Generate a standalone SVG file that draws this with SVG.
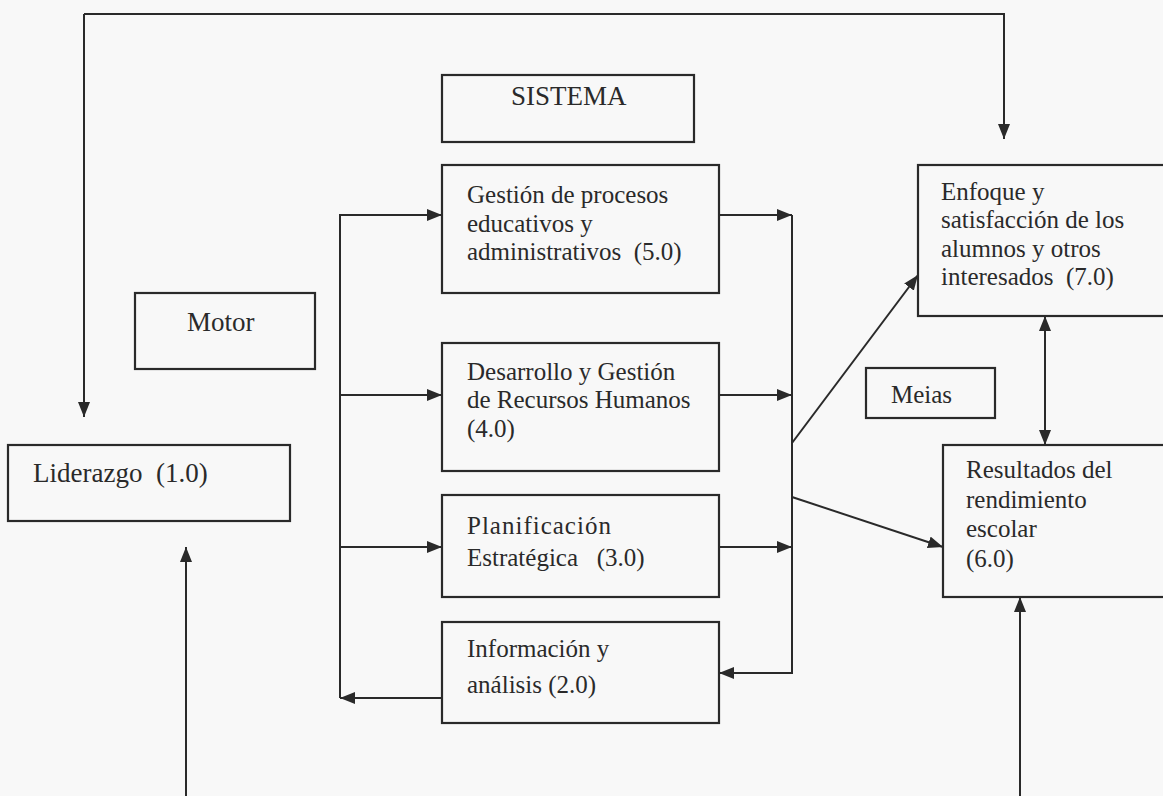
<svg xmlns="http://www.w3.org/2000/svg" width="1163" height="796" viewBox="0 0 1163 796">
<style>
.box{fill:none;stroke:#2a2a2a;stroke-width:2.2}
.t{font-family:"Liberation Serif","Times New Roman",serif;font-size:25px;fill:#2a2a2a}
.big{font-size:27px}
.ln{fill:none;stroke:#2a2a2a;stroke-width:2}
</style>
<defs>
<marker id="ah" markerUnits="userSpaceOnUse" markerWidth="16" markerHeight="12" refX="15" refY="6" orient="auto">
<path d="M0,0 L15,6 L0,12 z" fill="#2a2a2a"/>
</marker>
<marker id="ahs" markerUnits="userSpaceOnUse" markerWidth="16" markerHeight="12" refX="0" refY="6" orient="auto">
<path d="M15,0 L0,6 L15,12 z" fill="#2a2a2a"/>
</marker>
</defs>
<rect width="1163" height="796" fill="#f8f8f8"/>
<g id="connectors">
<polyline class="ln" points="84,14 1004,14 1004,139" marker-end="url(#ah)"/>
<line class="ln" x1="84" y1="14" x2="84" y2="417" marker-end="url(#ah)"/>
<line class="ln" x1="186" y1="796" x2="186" y2="547" marker-end="url(#ah)"/>
<polyline class="ln" points="442,698 340,698" marker-end="url(#ah)"/>
<polyline class="ln" points="340,698 340,215 442,215" marker-end="url(#ah)"/>
<line class="ln" x1="340" y1="395" x2="442" y2="395" marker-end="url(#ah)"/>
<line class="ln" x1="340" y1="547" x2="442" y2="547" marker-end="url(#ah)"/>
<polyline class="ln" points="719,215 792,215" marker-end="url(#ah)"/>
<line class="ln" x1="719" y1="395" x2="792" y2="395" marker-end="url(#ah)"/>
<line class="ln" x1="719" y1="547" x2="792" y2="547" marker-end="url(#ah)"/>
<polyline class="ln" points="792,215 792,673 719,673" marker-end="url(#ah)"/>
<line class="ln" x1="792" y1="443" x2="918" y2="275" marker-end="url(#ah)"/>
<line class="ln" x1="792" y1="497" x2="943" y2="547" marker-end="url(#ah)"/>
<line class="ln" x1="1045" y1="316" x2="1045" y2="445" marker-start="url(#ahs)" marker-end="url(#ah)"/>
<line class="ln" x1="1020" y1="796" x2="1020" y2="597" marker-end="url(#ah)"/>
</g>
<g id="sistema">
<rect class="box" x="442" y="75" width="252" height="67"/>
<text class="t big" x="511" y="105">SISTEMA</text>
</g>
<g id="gestion">
<rect class="box" x="442" y="165" width="277" height="128"/>
<text class="t" x="467" y="203">Gestión de procesos</text>
<text class="t" x="467" y="232">educativos y</text>
<text class="t" x="467" y="260" xml:space="preserve">administrativos  (5.0)</text>
</g>
<g id="motor">
<rect class="box" x="135" y="293" width="180" height="76"/>
<text class="t big" x="187" y="331">Motor</text>
</g>
<g id="desarrollo">
<rect class="box" x="442" y="343" width="277" height="128"/>
<text class="t" x="467" y="380">Desarrollo y Gestión</text>
<text class="t" x="467" y="408">de Recursos Humanos</text>
<text class="t" x="467" y="437">(4.0)</text>
</g>
<g id="liderazgo">
<rect class="box" x="8" y="445" width="282" height="76"/>
<text class="t big" x="33" y="482" xml:space="preserve">Liderazgo  (1.0)</text>
</g>
<g id="planificacion">
<rect class="box" x="442" y="495" width="277" height="102"/>
<text class="t" x="467" y="534" letter-spacing="1">Planificación</text>
<text class="t" x="467" y="566" xml:space="preserve">Estratégica   (3.0)</text>
</g>
<g id="informacion">
<rect class="box" x="442" y="622" width="277" height="101"/>
<text class="t" x="467" y="657">Información y</text>
<text class="t" x="467" y="693">análisis (2.0)</text>
</g>
<g id="enfoque">
<rect class="box" x="918" y="165" width="260" height="151"/>
<text class="t" x="941" y="200">Enfoque y</text>
<text class="t" x="941" y="228">satisfacción de los</text>
<text class="t" x="941" y="257">alumnos y otros</text>
<text class="t" x="941" y="285" xml:space="preserve">interesados  (7.0)</text>
</g>
<g id="metas">
<rect class="box" x="866" y="368" width="129" height="50"/>
<text class="t" x="891" y="403">Meias</text>
</g>
<g id="resultados">
<rect class="box" x="943" y="445" width="235" height="152"/>
<text class="t" x="966" y="478">Resultados del</text>
<text class="t" x="966" y="508">rendimiento</text>
<text class="t" x="966" y="537">escolar</text>
<text class="t" x="966" y="567">(6.0)</text>
</g>
</svg>
